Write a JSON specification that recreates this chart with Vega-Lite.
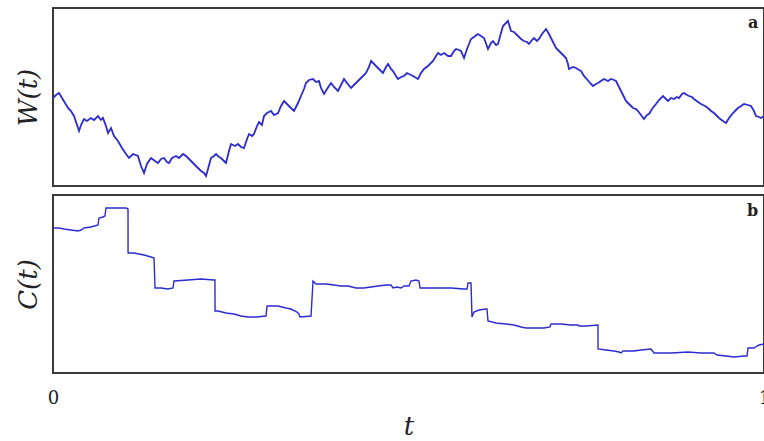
{
  "$schema": "https://vega.github.io/schema/vega-lite/v6.json",
  "padding": {"left": 14, "top": 7, "right": 0, "bottom": 0},
  "bounds": "flush",
  "spacing": 9,
  "background": "white",
  "config": {
    "view": {"stroke": "#3a3a3a", "strokeWidth": 2},
    "font": "DejaVu Serif"
  },
  "datasets": {
    "W": [
      {"t":0,"v":88},{"t":0.0042,"v":91},{"t":0.0084,"v":93},{"t":0.0127,"v":88},{"t":0.0169,"v":83},{"t":0.0211,"v":78},{"t":0.0253,"v":75},{"t":0.0295,"v":70},{"t":0.0338,"v":61},{"t":0.0366,"v":55},{"t":0.0394,"v":61},{"t":0.0436,"v":67},{"t":0.0478,"v":65},{"t":0.0534,"v":68},{"t":0.0577,"v":66},{"t":0.0633,"v":70},{"t":0.0675,"v":66},{"t":0.0703,"v":68},{"t":0.0745,"v":60},{"t":0.0774,"v":53},{"t":0.0816,"v":58},{"t":0.0858,"v":50},{"t":0.0914,"v":45},{"t":0.097,"v":38},{"t":0.1027,"v":32},{"t":0.1069,"v":28},{"t":0.1125,"v":32},{"t":0.1195,"v":30},{"t":0.1238,"v":20},{"t":0.128,"v":13},{"t":0.1322,"v":22},{"t":0.1378,"v":28},{"t":0.1435,"v":25},{"t":0.1477,"v":23},{"t":0.1519,"v":27},{"t":0.1561,"v":28},{"t":0.1603,"v":24},{"t":0.1632,"v":23},{"t":0.1674,"v":28},{"t":0.173,"v":30},{"t":0.1772,"v":28},{"t":0.1828,"v":32},{"t":0.1871,"v":30},{"t":0.1899,"v":28},{"t":0.1941,"v":25},{"t":0.1983,"v":22},{"t":0.2025,"v":19},{"t":0.2082,"v":15},{"t":0.2124,"v":13},{"t":0.2152,"v":10},{"t":0.218,"v":17},{"t":0.2222,"v":28},{"t":0.2264,"v":30},{"t":0.2293,"v":32},{"t":0.2335,"v":29},{"t":0.2363,"v":28},{"t":0.2405,"v":25},{"t":0.2433,"v":23},{"t":0.2475,"v":35},{"t":0.2504,"v":42},{"t":0.256,"v":40},{"t":0.2602,"v":42},{"t":0.2644,"v":39},{"t":0.2686,"v":38},{"t":0.2729,"v":47},{"t":0.2757,"v":52},{"t":0.2799,"v":50},{"t":0.2827,"v":52},{"t":0.2869,"v":60},{"t":0.2897,"v":64},{"t":0.2939,"v":61},{"t":0.2968,"v":70},{"t":0.301,"v":73},{"t":0.3066,"v":75},{"t":0.3108,"v":71},{"t":0.3165,"v":73},{"t":0.3207,"v":80},{"t":0.3249,"v":85},{"t":0.3291,"v":82},{"t":0.3319,"v":80},{"t":0.3361,"v":77},{"t":0.339,"v":75},{"t":0.3446,"v":83},{"t":0.3488,"v":90},{"t":0.353,"v":97},{"t":0.3558,"v":103},{"t":0.3601,"v":106},{"t":0.3657,"v":107},{"t":0.3699,"v":104},{"t":0.3741,"v":105},{"t":0.3769,"v":98},{"t":0.3812,"v":92},{"t":0.3854,"v":97},{"t":0.391,"v":103},{"t":0.3952,"v":99},{"t":0.4008,"v":95},{"t":0.4051,"v":101},{"t":0.4093,"v":107},{"t":0.4135,"v":103},{"t":0.4191,"v":98},{"t":0.4233,"v":101},{"t":0.429,"v":105},{"t":0.4346,"v":109},{"t":0.4402,"v":113},{"t":0.4444,"v":119},{"t":0.4473,"v":125},{"t":0.4515,"v":122},{"t":0.4571,"v":118},{"t":0.4613,"v":115},{"t":0.4641,"v":113},{"t":0.4684,"v":119},{"t":0.4712,"v":122},{"t":0.4754,"v":117},{"t":0.4782,"v":115},{"t":0.4824,"v":110},{"t":0.4852,"v":107},{"t":0.4895,"v":109},{"t":0.4937,"v":110},{"t":0.4979,"v":113},{"t":0.5007,"v":112},{"t":0.5063,"v":110},{"t":0.5134,"v":107},{"t":0.5176,"v":113},{"t":0.5218,"v":117},{"t":0.5274,"v":120},{"t":0.5345,"v":125},{"t":0.5387,"v":130},{"t":0.5415,"v":133},{"t":0.5457,"v":131},{"t":0.55,"v":133},{"t":0.5556,"v":130},{"t":0.5598,"v":130},{"t":0.564,"v":135},{"t":0.5668,"v":137},{"t":0.571,"v":136},{"t":0.5738,"v":135},{"t":0.5781,"v":128},{"t":0.5823,"v":137},{"t":0.5879,"v":147},{"t":0.5921,"v":149},{"t":0.5977,"v":152},{"t":0.602,"v":150},{"t":0.6062,"v":148},{"t":0.6118,"v":137},{"t":0.616,"v":143},{"t":0.6188,"v":145},{"t":0.6231,"v":141},{"t":0.6259,"v":142},{"t":0.6301,"v":153},{"t":0.6329,"v":160},{"t":0.6371,"v":163},{"t":0.6399,"v":165},{"t":0.6442,"v":155},{"t":0.6484,"v":154},{"t":0.654,"v":150},{"t":0.6582,"v":147},{"t":0.6624,"v":145},{"t":0.6667,"v":144},{"t":0.6695,"v":142},{"t":0.6737,"v":146},{"t":0.6765,"v":148},{"t":0.6807,"v":145},{"t":0.6835,"v":147},{"t":0.6878,"v":152},{"t":0.6934,"v":157},{"t":0.6976,"v":152},{"t":0.7004,"v":148},{"t":0.7046,"v":142},{"t":0.7075,"v":138},{"t":0.7117,"v":135},{"t":0.7145,"v":133},{"t":0.7187,"v":130},{"t":0.7215,"v":128},{"t":0.7243,"v":122},{"t":0.7257,"v":117},{"t":0.7314,"v":119},{"t":0.7356,"v":118},{"t":0.7398,"v":116},{"t":0.7426,"v":115},{"t":0.7468,"v":110},{"t":0.7496,"v":108},{"t":0.7553,"v":103},{"t":0.7595,"v":100},{"t":0.7637,"v":102},{"t":0.7665,"v":103},{"t":0.7707,"v":105},{"t":0.775,"v":107},{"t":0.7806,"v":105},{"t":0.7848,"v":107},{"t":0.789,"v":106},{"t":0.7918,"v":105},{"t":0.7961,"v":99},{"t":0.7989,"v":95},{"t":0.8031,"v":89},{"t":0.8059,"v":85},{"t":0.8101,"v":82},{"t":0.8158,"v":78},{"t":0.82,"v":77},{"t":0.8228,"v":75},{"t":0.827,"v":71},{"t":0.8312,"v":67},{"t":0.8354,"v":71},{"t":0.8383,"v":72},{"t":0.8425,"v":77},{"t":0.8481,"v":82},{"t":0.8523,"v":86},{"t":0.8579,"v":90},{"t":0.8622,"v":87},{"t":0.865,"v":85},{"t":0.8692,"v":88},{"t":0.8734,"v":87},{"t":0.8776,"v":89},{"t":0.8805,"v":88},{"t":0.8847,"v":92},{"t":0.8875,"v":93},{"t":0.8917,"v":91},{"t":0.8945,"v":90},{"t":0.8987,"v":89},{"t":0.9015,"v":87},{"t":0.9072,"v":84},{"t":0.9114,"v":82},{"t":0.917,"v":80},{"t":0.9212,"v":78},{"t":0.9255,"v":75},{"t":0.9297,"v":73},{"t":0.9339,"v":70},{"t":0.9367,"v":68},{"t":0.9423,"v":65},{"t":0.9466,"v":63},{"t":0.9508,"v":68},{"t":0.9564,"v":73},{"t":0.9606,"v":76},{"t":0.9634,"v":78},{"t":0.9677,"v":80},{"t":0.9719,"v":82},{"t":0.9775,"v":81},{"t":0.9817,"v":80},{"t":0.9859,"v":75},{"t":0.9887,"v":70},{"t":0.993,"v":69},{"t":0.9958,"v":68},{"t":1,"v":70}
    ],
    "C": [
      {"t":0,"v":145},{"t":0.0084,"v":145},{"t":0.0155,"v":144},{"t":0.0253,"v":143},{"t":0.0352,"v":142},{"t":0.0394,"v":143},{"t":0.0436,"v":145},{"t":0.0534,"v":146},{"t":0.0633,"v":148},{"t":0.0647,"v":155},{"t":0.0703,"v":156},{"t":0.0731,"v":157},{"t":0.0745,"v":165},{"t":0.0886,"v":165},{"t":0.1027,"v":165},{"t":0.1055,"v":164},{"t":0.1056,"v":120},{"t":0.1139,"v":120},{"t":0.121,"v":119},{"t":0.128,"v":118},{"t":0.1378,"v":116},{"t":0.1421,"v":115},{"t":0.1435,"v":85},{"t":0.1519,"v":85},{"t":0.1617,"v":84},{"t":0.1688,"v":85},{"t":0.1702,"v":92},{"t":0.1899,"v":93},{"t":0.2082,"v":94},{"t":0.2264,"v":93},{"t":0.2278,"v":93},{"t":0.2279,"v":62},{"t":0.2321,"v":62},{"t":0.2433,"v":60},{"t":0.2546,"v":59},{"t":0.2644,"v":57},{"t":0.2743,"v":56},{"t":0.2855,"v":56},{"t":0.2996,"v":57},{"t":0.301,"v":67},{"t":0.3094,"v":67},{"t":0.3165,"v":67},{"t":0.3277,"v":65},{"t":0.3347,"v":64},{"t":0.3432,"v":61},{"t":0.346,"v":59},{"t":0.3474,"v":56},{"t":0.3629,"v":57},{"t":0.3657,"v":92},{"t":0.3699,"v":89},{"t":0.384,"v":89},{"t":0.3952,"v":88},{"t":0.4051,"v":87},{"t":0.4149,"v":87},{"t":0.4262,"v":85},{"t":0.4374,"v":85},{"t":0.4473,"v":86},{"t":0.4571,"v":87},{"t":0.4684,"v":88},{"t":0.4754,"v":88},{"t":0.4782,"v":85},{"t":0.4838,"v":86},{"t":0.4895,"v":85},{"t":0.4937,"v":87},{"t":0.5007,"v":87},{"t":0.5035,"v":92},{"t":0.5105,"v":93},{"t":0.5148,"v":92},{"t":0.5162,"v":85},{"t":0.5316,"v":85},{"t":0.5457,"v":85},{"t":0.5598,"v":85},{"t":0.5781,"v":84},{"t":0.5823,"v":84},{"t":0.5837,"v":90},{"t":0.5879,"v":90},{"t":0.5893,"v":56},{"t":0.5921,"v":61},{"t":0.5992,"v":63},{"t":0.6091,"v":64},{"t":0.6104,"v":64},{"t":0.6118,"v":52},{"t":0.6231,"v":50},{"t":0.6371,"v":49},{"t":0.6484,"v":48},{"t":0.6582,"v":46},{"t":0.6653,"v":45},{"t":0.6793,"v":45},{"t":0.6906,"v":45},{"t":0.699,"v":46},{"t":0.7004,"v":49},{"t":0.7145,"v":49},{"t":0.7286,"v":48},{"t":0.7384,"v":48},{"t":0.7398,"v":47},{"t":0.7496,"v":47},{"t":0.7665,"v":48},{"t":0.7666,"v":24},{"t":0.7778,"v":23},{"t":0.789,"v":22},{"t":0.7961,"v":21},{"t":0.7989,"v":20},{"t":0.8017,"v":22},{"t":0.8172,"v":22},{"t":0.827,"v":23},{"t":0.8411,"v":24},{"t":0.8453,"v":20},{"t":0.8622,"v":20},{"t":0.8692,"v":20},{"t":0.8931,"v":21},{"t":0.9114,"v":20},{"t":0.9297,"v":20},{"t":0.9339,"v":18},{"t":0.9466,"v":17},{"t":0.9578,"v":16},{"t":0.9719,"v":17},{"t":0.9761,"v":17},{"t":0.9775,"v":25},{"t":0.9859,"v":25},{"t":0.9902,"v":27},{"t":0.993,"v":28},{"t":1,"v":29}
    ]
  },
  "vconcat": [
    {
      "width": 711,
      "height": 178,
      "layer": [
        {
          "data": {"name": "W"},
          "mark": {"type": "line", "color": "#2b2bcf", "strokeWidth": 1.8, "clip": true},
          "encoding": {
            "x": {"field": "t", "type": "quantitative", "scale": {"domain": [0, 1], "nice": false}, "axis": null},
            "y": {"field": "v", "type": "quantitative", "scale": {"domain": [0, 178], "nice": false, "zero": false},
              "axis": {"title": "W(t)", "labels": false, "ticks": false, "domain": false, "grid": false,
                "titleFont": "DejaVu Serif", "titleFontStyle": "italic", "titleFontWeight": "normal",
                "titleFontSize": 26, "titleColor": "#222", "titlePadding": 12}}
          }
        },
        {
          "data": {"values": [{"lab": "a"}]},
          "mark": {"type": "text", "font": "DejaVu Serif", "fontWeight": "bold", "fontSize": 16, "align": "right", "baseline": "middle", "color": "#222"},
          "encoding": {
            "text": {"field": "lab"},
            "x": {"datum": 0.992, "type": "quantitative"},
            "y": {"datum": 163, "type": "quantitative"}
          }
        }
      ]
    },
    {
      "width": 711,
      "height": 178,
      "layer": [
        {
          "data": {"name": "C"},
          "mark": {"type": "line", "color": "#2b2bcf", "strokeWidth": 1.4, "clip": true},
          "encoding": {
            "x": {"field": "t", "type": "quantitative", "scale": {"domain": [0, 1], "nice": false},
              "axis": {"title": "t", "values": [0, 1], "format": "d", "ticks": false, "domain": false, "grid": false,
                "labelFont": "DejaVu Serif", "labelFontSize": 18, "labelColor": "#222", "labelPadding": 16,
                "labelFlush": false, "labelOverlap": false,
                "titleFont": "DejaVu Serif", "titleFontStyle": "italic", "titleFontWeight": "normal",
                "titleFontSize": 26, "titleColor": "#222", "titlePadding": 6}},
            "y": {"field": "v", "type": "quantitative", "scale": {"domain": [0, 178], "nice": false, "zero": false},
              "axis": {"title": "C(t)", "labels": false, "ticks": false, "domain": false, "grid": false,
                "titleFont": "DejaVu Serif", "titleFontStyle": "italic", "titleFontWeight": "normal",
                "titleFontSize": 26, "titleColor": "#222", "titlePadding": 12}}
          }
        },
        {
          "data": {"values": [{"lab": "b"}]},
          "mark": {"type": "text", "font": "DejaVu Serif", "fontWeight": "bold", "fontSize": 16, "align": "right", "baseline": "middle", "color": "#222"},
          "encoding": {
            "text": {"field": "lab"},
            "x": {"datum": 0.992, "type": "quantitative"},
            "y": {"datum": 162, "type": "quantitative"}
          }
        }
      ]
    }
  ]
}
